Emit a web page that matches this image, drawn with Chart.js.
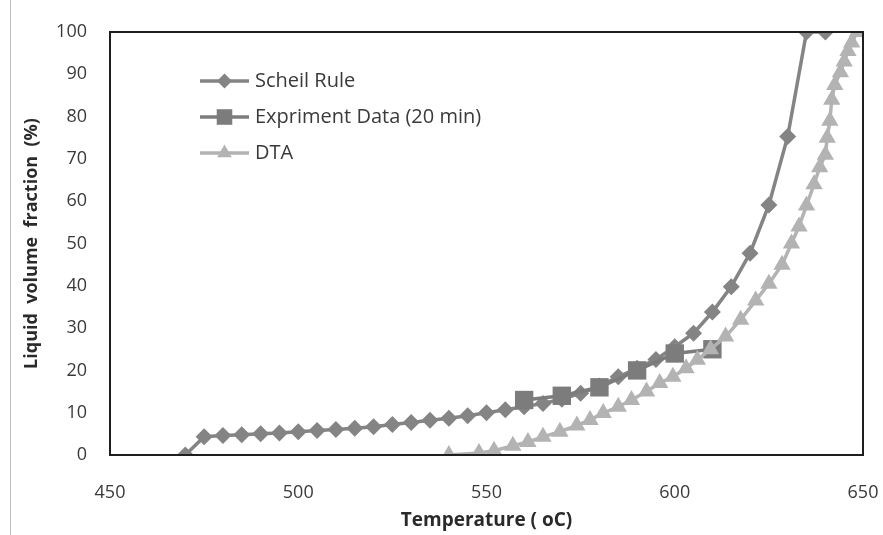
<!DOCTYPE html>
<html>
<head>
<meta charset="utf-8">
<script src="https://cdn.jsdelivr.net/npm/chart.js@4.4.1/dist/chart.umd.min.js"></script>
<style>
  html, body { margin: 0; padding: 0; background: #fff; }
  #wrap { position: relative; width: 883px; height: 535px; }
  #edge { position: absolute; left: 10px; top: 0; width: 1px; height: 535px; background: #bdbdbd; }
  canvas { position: absolute; left: 0; top: 0; }
</style>
</head>
<body>
<div id="wrap">
  <div id="edge"></div>
  <canvas id="c" width="883" height="535"></canvas>
</div>
<script>
// Scheil Rule (temperature °C, liquid volume fraction %)
const scheilT = [470,475,480,485,490,495,500,505,510,515,520,525,530,535,540,545,550,555,560,565,570,575,580,585,590,595,600,605,610,615,620,625,630,635,640];
const scheilV = [0,4.3,4.6,4.8,5.0,5.2,5.5,5.8,6.0,6.3,6.7,7.2,7.7,8.2,8.7,9.3,10.0,10.7,11.4,12.2,13.2,14.6,16.3,18.5,20.5,22.6,25.6,28.8,33.8,39.8,47.7,59.1,75.3,100,100];

// Experiment Data (20 min)
const expT = [560,570,580,590,600,610];
const expV = [13,14,16,20,24,25];

// DTA
const dtaT = [540,548,552,557,561,565,569.5,574,577.5,581,585,588.5,592.5,596,599.5,603,606,609.5,613.5,617.5,621.5,625,628.5,631,633,635,637,638.5,640,640.5,641.2,641.7,642.5,644,645,646,647,648.5];
const dtaV = [0,0.5,1,2.2,3.1,4.3,5.5,7,8.3,9.9,11.4,13,15,17,18.5,20.5,22.5,25,28,32,36.5,40.5,45,50,54,59,64,68,71,75,79,84,87.5,90.5,93,95.5,97.5,100];

const xTicks = [450,500,550,600,650];
const yTicks = [0,10,20,30,40,50,60,70,80,90,100];

const seriesNames = ['Scheil Rule', 'Expriment Data (20 min)', 'DTA'];

function pts(t, v) { return t.map((x, i) => ({ x: x, y: v[i] })); }

const FONT = '"Open Sans", Lato, sans-serif';

const frame = {
  id: 'frame',
  afterDatasetsDraw(chart) {
    const a = chart.chartArea, ctx = chart.ctx;
    ctx.save();
    ctx.strokeStyle = '#1e1e1e';
    ctx.lineWidth = 2;
    ctx.strokeRect(a.left, a.top, a.right - a.left, a.bottom - a.top);
    ctx.restore();
  }
};

const insideLegend = {
  id: 'insideLegend',
  afterDraw(chart) {
    const ctx = chart.ctx;
    const x0 = 200, x1 = 249, tx = 255;
    const rows = [81, 117, 153];
    ctx.save();
    chart.data.datasets.forEach((ds, i) => {
      const y = rows[i];
      ctx.strokeStyle = ds.borderColor;
      ctx.lineWidth = ds.borderWidth;
      ctx.beginPath(); ctx.moveTo(x0, y); ctx.lineTo(x1, y); ctx.stroke();
      ctx.fillStyle = ds.pointBackgroundColor;
      ctx.strokeStyle = ds.pointBorderColor;
      Chart.helpers.drawPoint(ctx, { pointStyle: ds.pointStyle, radius: ds.legendRadius, borderWidth: 0, rotation: 0 }, (x0 + x1) / 2, y);
      ctx.fillStyle = '#3a3a3a';
      ctx.font = '20px ' + FONT;
      ctx.textBaseline = 'middle';
      ctx.textAlign = 'left';
      ctx.fillText(seriesNames[i], tx, y);
    });
    ctx.restore();
  }
};

new Chart(document.getElementById('c'), {
  type: 'scatter',
  data: {
    datasets: [
      {
        label: seriesNames[0], data: pts(scheilT, scheilV), showLine: true,
        borderColor: '#848484', borderWidth: 3.5,
        pointStyle: 'rectRot', pointRadius: 8.5, legendRadius: 7.5,
        pointBackgroundColor: '#848484', pointBorderColor: '#848484', pointBorderWidth: 0,
        order: 2
      },
      {
        label: seriesNames[1], data: pts(expT, expV), showLine: true,
        borderColor: '#7c7c7c', borderWidth: 3.5,
        pointStyle: 'rect', pointRadius: 13, legendRadius: 11,
        pointBackgroundColor: '#7c7c7c', pointBorderColor: '#7c7c7c', pointBorderWidth: 0,
        order: 1
      },
      {
        label: seriesNames[2], data: pts(dtaT, dtaV), showLine: true,
        borderColor: '#b3b3b3', borderWidth: 3.5,
        pointStyle: 'triangle', pointRadius: 10, legendRadius: 8.5,
        pointBackgroundColor: '#b3b3b3', pointBorderColor: '#b3b3b3', pointBorderWidth: 0,
        order: 0
      }
    ]
  },
  options: {
    responsive: false,
    animation: false,
    layout: { padding: { left: 0, right: 20, top: 32, bottom: 0 } },
    plugins: { legend: { display: false }, tooltip: { enabled: false } },
    scales: {
      x: {
        type: 'linear', min: 450, max: 650,
        afterBuildTicks(s) { s.ticks = xTicks.map(v => ({ value: v })); },
        afterFit(s) { s.height = 80; s.paddingLeft = 0; s.paddingRight = 0; },
        grid: { display: false, drawTicks: false },
        border: { display: false },
        ticks: { padding: 27, color: '#3a3a3a', font: { family: FONT, size: 18 }, maxRotation: 0 },
        title: { display: true, text: 'Temperature ( oC)', color: '#2a2a2a', font: { family: FONT, size: 19, weight: 'bold' }, padding: { top: 0, bottom: 3 } }
      },
      y: {
        type: 'linear', min: 0, max: 100,
        afterBuildTicks(s) { s.ticks = yTicks.map(v => ({ value: v })); },
        afterFit(s) { s.width = 110; s.paddingTop = 0; s.paddingBottom = 0; },
        grid: { display: false, drawTicks: false },
        border: { display: false },
        ticks: { padding: 23, color: '#3a3a3a', font: { family: FONT, size: 18 } },
        title: { display: true, text: 'Liquid  volume  fraction  (%)', color: '#2a2a2a', font: { family: FONT, size: 18, weight: 'bold' }, padding: { top: 21, bottom: 0 } }
      }
    }
  },
  plugins: [frame, insideLegend]
});
</script>
</body>
</html>
